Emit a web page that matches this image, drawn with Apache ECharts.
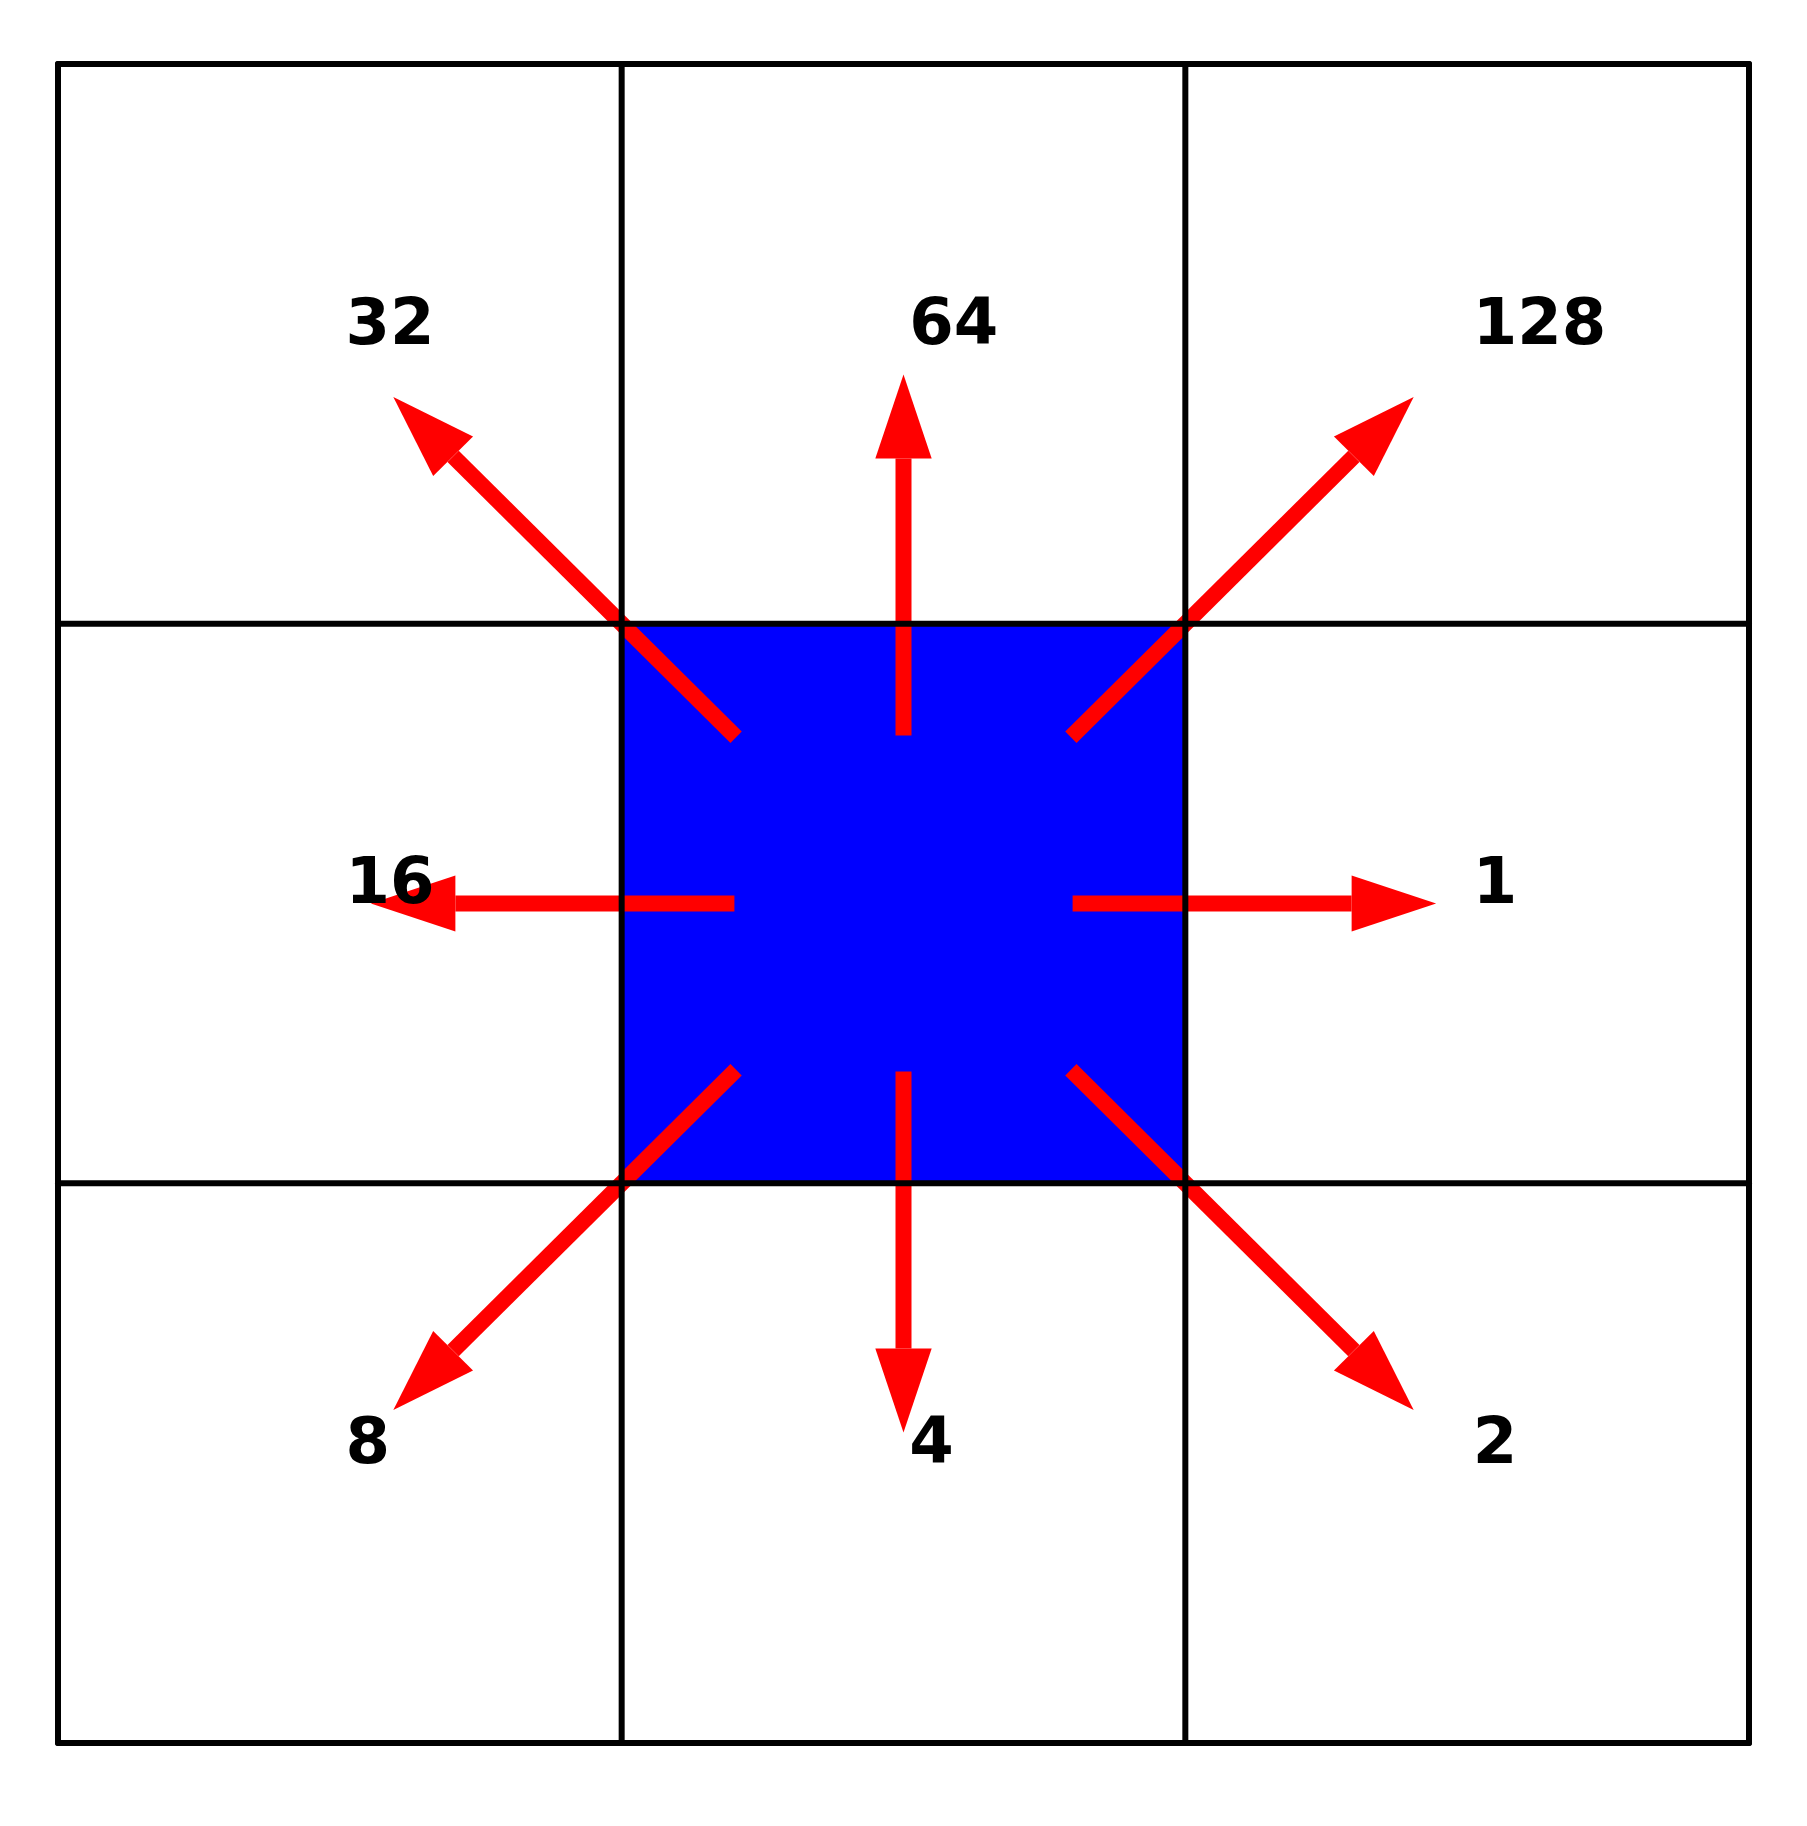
<!DOCTYPE html>
<html>
<head>
<meta charset="utf-8">
<script src="https://cdn.jsdelivr.net/npm/echarts@6/dist/echarts.min.js"></script>
<style>html,body{margin:0;background:#fff}#chart{width:1807px;height:1826px}</style>
</head>
<body>
<div id="chart"></div>
<script>
// direction codes and their unit vectors (x right, y up)
const codes = [1, 2, 4, 8, 16, 32, 64, 128];
const dirX = [1, 1, 0, -1, -1, -1, 0, 1];
const dirY = [0, -1, -1, -1, 0, 1, 1, 1];
const centerCell = [1.5, 1.5];
const gridTicks = [0, 1, 2, 3];

const chart = echarts.init(document.getElementById('chart'));

function renderAll(params, api) {
  const kids = [];
  const p = (x, y) => api.coord([x, y]);
  // blue center cell
  const a = p(1, 2), b = p(2, 1);
  kids.push({ type: 'rect', shape: { x: a[0], y: a[1], width: b[0] - a[0], height: b[1] - a[1] }, style: { fill: '#0000ff' } });
  // arrows
  codes.forEach((c, i) => {
    const dx = dirX[i], dy = dirY[i];
    const diag = dx !== 0 && dy !== 0;
    const len = Math.hypot(dx, dy);
    const ux = dx / len, uy = dy / len;
    const start = diag ? 0.42 : 0.3;
    const tip = diag ? 1.28 : 0.945;
    const base = tip - 0.15, hw = 0.05;
    const cx = centerCell[0], cy = centerCell[1];
    const s = p(cx + ux * start, cy + uy * start);
    const e = p(cx + ux * base, cy + uy * base);
    const t = p(cx + ux * tip, cy + uy * tip);
    const l = p(cx + ux * base - uy * hw, cy + uy * base + ux * hw);
    const r = p(cx + ux * base + uy * hw, cy + uy * base - ux * hw);
    kids.push({ type: 'line', shape: { x1: s[0], y1: s[1], x2: e[0], y2: e[1] }, style: { stroke: '#ff0000', lineWidth: 16 } });
    kids.push({ type: 'polygon', shape: { points: [t, l, r] }, style: { fill: '#ff0000' } });
  });
  // grid lines (drawn over the arrows)
  gridTicks.forEach(t => {
    const v1 = p(t, 0), v2 = p(t, 3), h1 = p(0, t), h2 = p(3, t);
    kids.push({ type: 'line', shape: { x1: v1[0], y1: v1[1], x2: v2[0], y2: v2[1] }, style: { stroke: '#000', lineWidth: 6, lineCap: 'round' } });
    kids.push({ type: 'line', shape: { x1: h1[0], y1: h1[1], x2: h2[0], y2: h2[1] }, style: { stroke: '#000', lineWidth: 6, lineCap: 'round' } });
  });
  // labels
  codes.forEach((c, i) => {
    const q = p(centerCell[0] + dirX[i] * 1.0 + 0.01, centerCell[1] + dirY[i] * 1.0 + 0.03);
    kids.push({ type: 'text', x: q[0], y: q[1], style: { text: String(c), fill: '#000', font: 'bold 64px "DejaVu Sans"', align: 'left', verticalAlign: 'middle' } });
  });
  return { type: 'group', children: kids };
}

chart.setOption({
  animation: false,
  backgroundColor: '#fff',
  grid: { left: 58, right: 1807 - 1749, top: 64, bottom: 1826 - 1743 },
  xAxis: { type: 'value', min: 0, max: 3, show: false },
  yAxis: { type: 'value', min: 0, max: 3, show: false },
  series: [{ type: 'custom', renderItem: renderAll, data: [[0, 0]], silent: true }]
});
</script>
</body>
</html>
